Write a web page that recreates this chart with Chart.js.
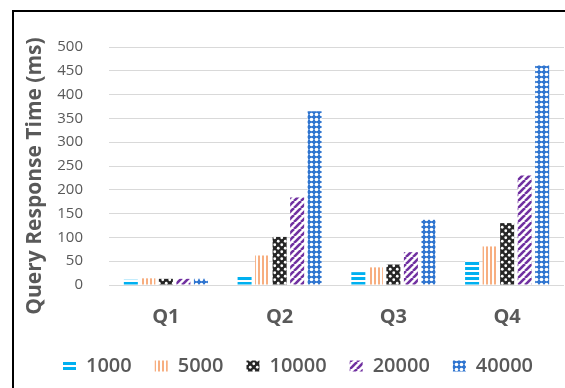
<!DOCTYPE html>
<html>
<head>
<meta charset="utf-8">
<script src="https://cdn.jsdelivr.net/npm/chart.js@4"></script>
<style>
  html, body { margin: 0; padding: 0; background: #fff; overflow: hidden; }
  #frame { position: absolute; left: 12px; top: 10px; width: 568px; height: 390px; border: 2px solid #000; }
  canvas { display: block; }
</style>
</head>
<body>
<div id="frame"><canvas id="chart" width="568" height="378"></canvas></div>
<script>
const queries = ['Q1', 'Q2', 'Q3', 'Q4'];
const sizes = ['1000', '5000', '10000', '20000', '40000'];
const t1000 = [11, 21, 27, 50];
const t5000 = [14, 62, 37, 81];
const t10000 = [13, 101, 43, 130];
const t20000 = [13, 184, 69, 230];
const t40000 = [13, 365, 137, 461];
const yTicks = [0, 50, 100, 150, 200, 250, 300, 350, 400, 450, 500];

const grey = '#595959';
const ctx = document.getElementById('chart').getContext('2d');

// small repeating tiles for the hatched bar fills
function tile(size, paint) {
  const c = document.createElement('canvas');
  c.width = c.height = size;
  const g = c.getContext('2d');
  g.fillStyle = '#fff';
  g.fillRect(0, 0, size, size);
  paint(g, size);
  return ctx.createPattern(c, 'repeat');
}
function dot(g, x, y, r, col) {
  g.fillStyle = col;
  g.beginPath();
  g.arc(x, y, r, 0, Math.PI * 2);
  g.fill();
}

const fills = [
  tile(5, (g) => { g.fillStyle = '#00B0F0'; g.fillRect(0, 0, 5, 3); }),
  tile(4, (g) => { g.fillStyle = '#F7AE80'; g.fillRect(0, 0, 2, 4); }),
  tile(7, (g, s) => {
    g.fillStyle = '#262626'; g.fillRect(0, 0, s, s);
    dot(g, 1.75, 1.75, 1.4, '#fff');
    dot(g, 5.25, 5.25, 1.4, '#fff');
  }),
  tile(7, (g, s) => {
    g.strokeStyle = '#7030A0'; g.lineWidth = 2.6;
    for (let k = -1; k <= 1; k++) {
      g.beginPath();
      g.moveTo(k * s, s);
      g.lineTo(k * s + s, 0);
      g.stroke();
    }
  }),
  tile(5, (g, s) => {
    g.fillStyle = '#2F75D0'; g.fillRect(0, 0, s, s);
    dot(g, 2.5, 2.5, 1.8, '#fff');
  })
];

const series = [t1000, t5000, t10000, t20000, t40000];

// rotated axis caption, centred a little below the plot middle
const axisCaption = {
  id: 'axisCaption',
  afterDraw(chart) {
    const c = chart.ctx;
    c.save();
    c.translate(21, 164);
    c.rotate(-Math.PI / 2);
    c.font = 'bold 21px "Open Sans"';
    c.fillStyle = grey;
    c.textAlign = 'center';
    c.textBaseline = 'middle';
    c.fillText('Query Response Time (ms)', 0, 0);
    c.restore();
  }
};

new Chart(ctx, {
  type: 'bar',
  data: {
    labels: queries,
    datasets: sizes.map((s, i) => ({
      label: s,
      data: series[i],
      backgroundColor: fills[i],
      borderWidth: 0,
      categoryPercentage: 0.77,
      barPercentage: 0.8
    }))
  },
  options: {
    responsive: false,
    animation: false,
    layout: { padding: { top: 23, right: 0, bottom: 4, left: 0 } },
    plugins: {
      tooltip: { enabled: false },
      legend: {
        position: 'bottom',
        labels: {
          boxWidth: 13,
          boxHeight: 11,
          padding: 23,
          color: grey,
          font: { family: 'Open Sans', size: 20, weight: '600' }
        }
      }
    },
    scales: {
      x: {
        grid: { display: false },
        border: { display: false },
        ticks: { color: grey, padding: 12, font: { family: 'Open Sans', size: 20, weight: 'bold' } },
        afterFit: (s) => { s.height = 48; }
      },
      y: {
        min: 0,
        max: 500,
        afterBuildTicks: (s) => { s.ticks = yTicks.map(v => ({ value: v })); },
        grid: { color: '#D9D9D9', lineWidth: 1, drawTicks: false },
        border: { display: false },
        ticks: { color: grey, padding: 26, font: { family: 'Open Sans', size: 15 } },
        afterFit: (s) => { s.width = 95; }
      },
      // empty right-hand strip so the plot stops short of the frame edge
      gap: {
        position: 'right',
        grid: { display: false },
        border: { display: false },
        ticks: { display: false },
        afterFit: (s) => { s.width = 18; }
      }
    }
  },
  plugins: [axisCaption]
});
</script>
</body>
</html>
